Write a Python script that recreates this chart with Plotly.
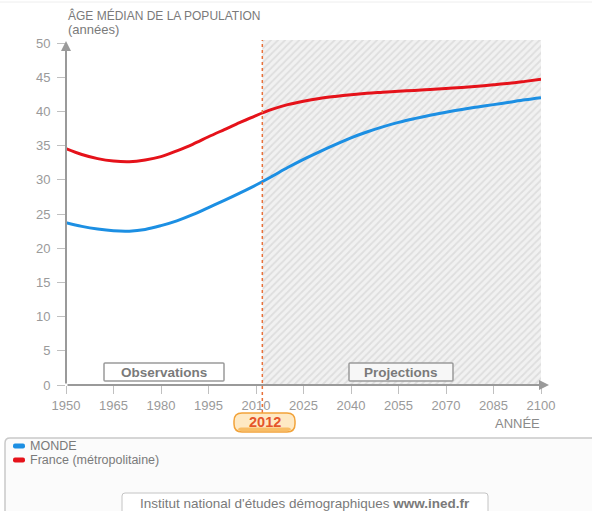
import plotly.graph_objects as go

# Median age of the population (years), observations up to 2012, projections after
years = [1950, 1955, 1960, 1965, 1970, 1975, 1980, 1985, 1990, 1995, 2000,
         2005, 2010, 2015, 2020, 2025, 2030, 2035, 2040, 2045, 2050, 2055,
         2060, 2065, 2070, 2075, 2080, 2085, 2090, 2095, 2100]
monde = [23.75, 23.2, 22.8, 22.55, 22.5, 22.75, 23.3, 24.0, 24.9, 25.95, 27.0,
         28.1, 29.25, 30.5, 31.8, 33.0, 34.1, 35.15, 36.15, 37.0, 37.75, 38.4,
         38.95, 39.45, 39.9, 40.3, 40.65, 41.0, 41.35, 41.7, 42.0]
france = [34.55, 33.7, 33.1, 32.75, 32.65, 32.9, 33.4, 34.25, 35.2, 36.3, 37.35,
          38.4, 39.4, 40.3, 41.0, 41.5, 41.9, 42.2, 42.45, 42.65, 42.8, 42.95,
          43.08, 43.22, 43.36, 43.52, 43.7, 43.9, 44.12, 44.4, 44.7]

x_ticks = [1950, 1965, 1980, 1995, 2010, 2025, 2040, 2055, 2070, 2085, 2100]
y_ticks = [0, 5, 10, 15, 20, 25, 30, 35, 40, 45, 50]
projection_start = 2012
x_range = [1950, 2100]
y_range = [0, 50.45]

W, H = 592, 511
L, R, T, B = 66, 51, 40, 126
PW, PH = W - L - R, H - T - B

FONT = "Liberation Sans, Arial, sans-serif"
GREY_TXT = "#8a8a8a"
BLUE = "#1c8fe3"
RED = "#e5121a"


def px(x):
    return (x - L) / PW


def py(y):
    return (H - B - y) / PH


def rounded_rect(x0, y0, x1, y1, r):
    """SVG path for a rounded rectangle given in page pixels, output in paper units."""
    pts = [
        f"M {px(x0 + r)} {py(y0)}",
        f"L {px(x1 - r)} {py(y0)}",
        f"Q {px(x1)} {py(y0)} {px(x1)} {py(y0 + r)}",
        f"L {px(x1)} {py(y1 - r)}",
        f"Q {px(x1)} {py(y1)} {px(x1 - r)} {py(y1)}",
        f"L {px(x0 + r)} {py(y1)}",
        f"Q {px(x0)} {py(y1)} {px(x0)} {py(y1 - r)}",
        f"L {px(x0)} {py(y0 + r)}",
        f"Q {px(x0)} {py(y0)} {px(x0 + r)} {py(y0)}",
        "Z",
    ]
    return " ".join(pts)


fig = go.Figure()

# Hatched projection zone
fig.add_trace(go.Scatter(
    x=[projection_start, x_range[1], x_range[1], projection_start, projection_start],
    y=[y_range[0], y_range[0], y_range[1], y_range[1], y_range[0]],
    fill="toself", mode="none", hoverinfo="skip", showlegend=False,
    fillcolor="#ececec",
    fillpattern=dict(shape="/", bgcolor="#f1f1f1", fgcolor="#cbcbcb",
                     size=5, solidity=0.35),
))

fig.add_trace(go.Scatter(x=years, y=france, mode="lines", name="France (métropolitaine)",
                         line=dict(color=RED, width=3, shape="spline"), showlegend=False))
fig.add_trace(go.Scatter(x=years, y=monde, mode="lines", name="MONDE",
                         line=dict(color=BLUE, width=3, shape="spline"), showlegend=False))

shapes = []
annotations = []

# 2012 dotted separator, running down to the year badge
shapes.append(dict(type="line", xref="x", yref="paper", x0=projection_start, x1=projection_start,
                   y0=py(413), y1=py(40), line=dict(color="#e8703a", width=1.5, dash="dot")))

# Axes with arrowheads
annotations.append(dict(xref="paper", yref="paper", x=0, y=py(41), ax=0, ay=344,
                        showarrow=True, arrowhead=2, arrowsize=1, arrowwidth=2,
                        arrowcolor="#9a9a9a", text=""))
annotations.append(dict(xref="paper", yref="paper", x=px(549), y=0, ax=-483, ay=0,
                        showarrow=True, arrowhead=2, arrowsize=1, arrowwidth=2,
                        arrowcolor="#9a9a9a", text=""))

# Titles
annotations.append(dict(xref="paper", yref="paper", x=px(66), y=py(16), xanchor="left",
                        yanchor="middle", showarrow=False, text="ÂGE MÉDIAN DE LA POPULATION",
                        font=dict(family=FONT, size=12, color="#7a7a7a")))
annotations.append(dict(xref="paper", yref="paper", x=px(66), y=py(29), xanchor="left",
                        yanchor="middle", showarrow=False, text="(années)",
                        font=dict(family=FONT, size=13, color="#7a7a7a")))
annotations.append(dict(xref="paper", yref="paper", x=px(542), y=py(423), xanchor="right",
                        yanchor="middle", showarrow=False, text="ANNÉE",
                        font=dict(family=FONT, size=13, color=GREY_TXT)))

# Zone labels
shapes.append(dict(type="path", xref="paper", yref="paper",
                   path=rounded_rect(104, 363, 224, 381, 1),
                   fillcolor="#ffffff", line=dict(color="#9a9a9a", width=1.5)))
annotations.append(dict(xref="paper", yref="paper", x=px(164), y=py(372), showarrow=False,
                        text="<b>Observations</b>", xanchor="center", yanchor="middle",
                        font=dict(family=FONT, size=13.5, color="#7a7a7a")))
shapes.append(dict(type="path", xref="paper", yref="paper",
                   path=rounded_rect(349, 363, 453, 381, 1),
                   fillcolor="#f7f7f7", line=dict(color="#9a9a9a", width=1.5)))
annotations.append(dict(xref="paper", yref="paper", x=px(401), y=py(372), showarrow=False,
                        text="<b>Projections</b>", xanchor="center", yanchor="middle",
                        font=dict(family=FONT, size=13.5, color="#7a7a7a")))

# 2012 badge (light body with a warmer lower edge)
shapes.append(dict(type="path", xref="paper", yref="paper",
                   path=rounded_rect(234, 413, 295, 432, 8),
                   fillcolor="#fee9c4", line=dict(color="#f2a33a", width=1.5)))
shapes.append(dict(type="path", xref="paper", yref="paper",
                   path=rounded_rect(238, 427.5, 291, 431, 3),
                   fillcolor="#f8bd66", line=dict(width=0)))
annotations.append(dict(xref="paper", yref="paper", x=px(264.5), y=py(422), showarrow=False,
                        text="<b>2012</b>", xanchor="center", yanchor="middle",
                        font=dict(family=FONT, size=14.5, color="#e5552a")))

# Legend panel
shapes.append(dict(type="path", xref="paper", yref="paper",
                   path=rounded_rect(5, 438, 596, 520, 5),
                   fillcolor="#fbfbfb", line=dict(color="#c9c9c9", width=1.5)))
legend_items = [("MONDE", BLUE, 446), ("France (métropolitaine)", RED, 460)]
for label, color, yy in legend_items:
    shapes.append(dict(type="path", xref="paper", yref="paper",
                       path=rounded_rect(13, yy - 2.5, 25, yy + 2.5, 2),
                       fillcolor=color, line=dict(color=color, width=0)))
    annotations.append(dict(xref="paper", yref="paper", x=px(28), y=py(yy), showarrow=False,
                            text=label, xanchor="left", yanchor="middle",
                            font=dict(family=FONT, size=12.5, color="#7a7a7a")))

# Source box
shapes.append(dict(type="path", xref="paper", yref="paper",
                   path=rounded_rect(122, 493, 488, 520, 3),
                   fillcolor="#ffffff", line=dict(color="#c4c4c4", width=1)))
annotations.append(dict(xref="paper", yref="paper", x=px(305), y=py(503), showarrow=False,
                        text="Institut national d'études démographiques <b>www.ined.fr</b>",
                        xanchor="center", yanchor="middle",
                        font=dict(family=FONT, size=13.5, color="#7a7a7a")))

# faint frame line at the top of the page
shapes.append(dict(type="line", xref="paper", yref="paper", x0=px(0), x1=px(592),
                   y0=py(2), y1=py(2), line=dict(color="#eeeeee", width=1)))

fig.update_layout(
    width=W, height=H,
    margin=dict(l=L, r=R, t=T, b=B),
    paper_bgcolor="#ffffff", plot_bgcolor="rgba(0,0,0,0)",
    font=dict(family=FONT, size=11, color=GREY_TXT),
    showlegend=False,
    shapes=shapes, annotations=annotations,
    xaxis=dict(range=x_range, tickvals=x_ticks, showgrid=False, zeroline=False,
               showline=False, ticks="outside", ticklen=8, tickwidth=1,
               tickcolor="#c0c0c0", tickfont=dict(family=FONT, size=13, color="#9a9a9a")),
    yaxis=dict(range=y_range, tickvals=y_ticks, showgrid=False, zeroline=False,
               showline=False, ticks="outside", ticklen=8, tickwidth=1,
               ticklabelstandoff=4,
               tickcolor="#c0c0c0", tickfont=dict(family=FONT, size=13, color="#9a9a9a")),
)

fig.write_html("out.html")
